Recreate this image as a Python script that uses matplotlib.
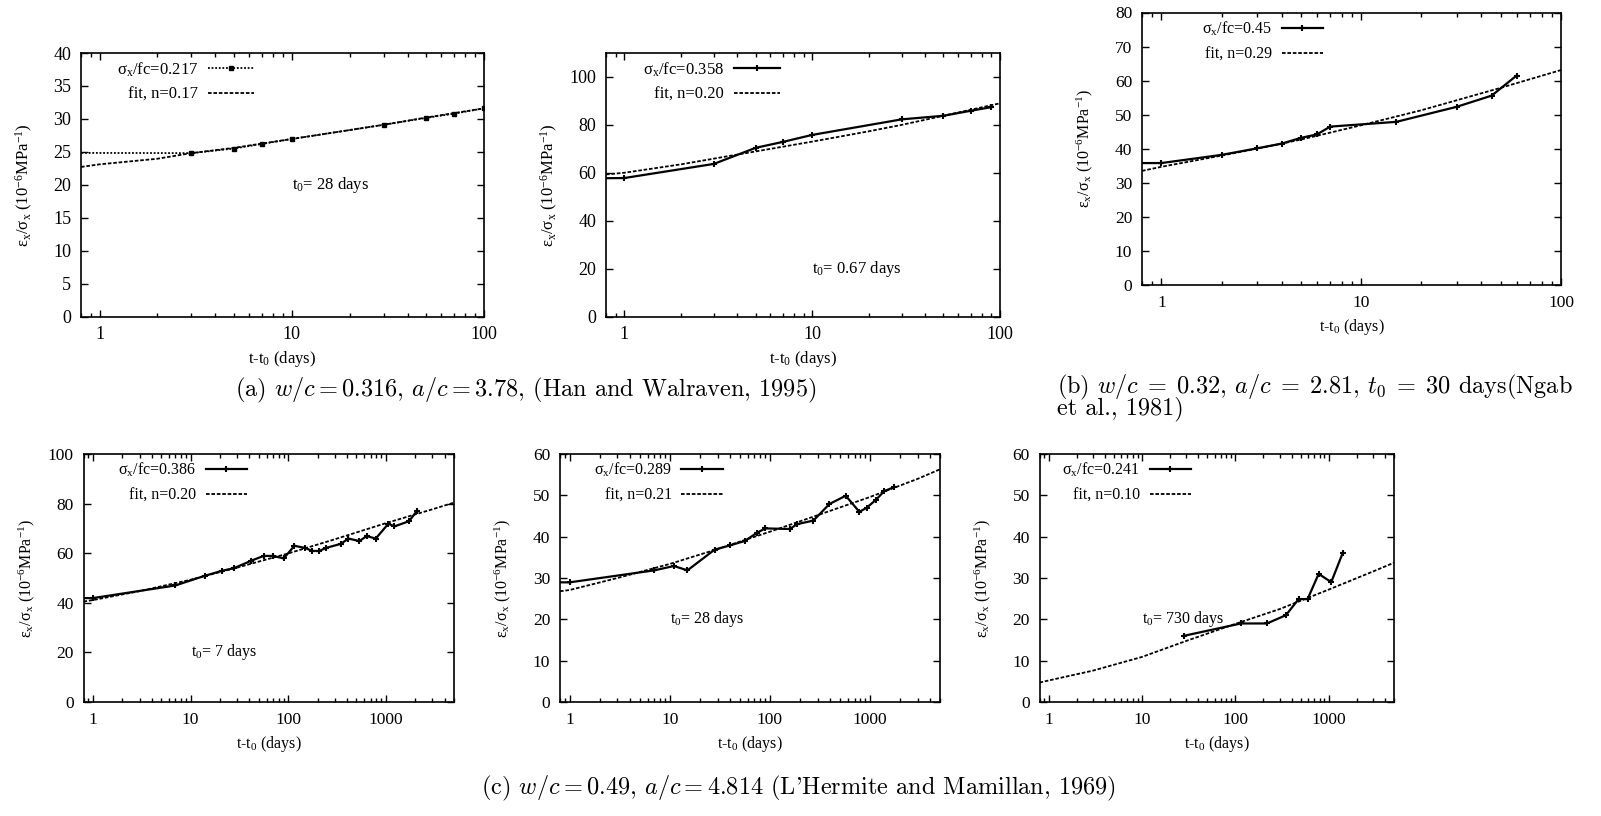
import matplotlib
matplotlib.use("Agg")
import matplotlib.pyplot as plt
from matplotlib.ticker import FixedLocator, FormatStrFormatter, LogLocator, NullFormatter

plt.rcParams["font.family"] = ["Liberation Serif", "DejaVu Serif"]
plt.rcParams["mathtext.fontset"] = "custom"
plt.rcParams["mathtext.rm"] = "Liberation Serif"
plt.rcParams["mathtext.it"] = "Liberation Serif"
plt.rcParams["mathtext.default"] = "rm"

# ---- (a) Han and Walraven, t0 = 28 days
a1_t = [0.5, 3, 5, 7, 10, 30, 50, 70, 100]
a1_j = [24.85, 24.8, 25.5, 26.2, 26.95, 29.1, 30.15, 30.8, 31.6]
a1_fit_t = [0.8, 1, 2, 3, 5, 10, 20, 30, 50, 100]
a1_fit_j = [22.7, 23.1, 23.95, 24.8, 25.6, 26.95, 28.3, 29.1, 30.2, 31.6]

# ---- (a) Han and Walraven, t0 = 0.67 days
a2_t = [0.5, 1, 3, 5, 7, 10, 30, 50, 70, 90]
a2_j = [57.6, 57.8, 63.7, 70.4, 72.9, 75.8, 82.3, 83.8, 85.9, 87.4]
a2_fit_t = [0.8, 1, 2, 3, 5, 10, 20, 30, 50, 100]
a2_fit_j = [59.3, 60.0, 63.5, 65.9, 68.9, 73.0, 77.3, 80.0, 83.8, 89.0]

# ---- (b) Ngab et al., t0 = 30 days
b_t = [0.5, 1, 2, 3, 4, 5, 6, 7, 15, 30, 45, 60]
b_j = [35.8, 35.8, 38.2, 40.1, 41.5, 43.2, 44.2, 46.5, 47.9, 52.3, 55.6, 61.5]
b_fit_t = [0.8, 1, 2, 3, 5, 10, 20, 50, 100]
b_fit_j = [33.5, 34.7, 38.0, 40.0, 42.7, 46.9, 51.3, 57.9, 63.1]

# ---- (c) L'Hermite and Mamillan, t0 = 7 days
c1_t = [0.5, 1, 7, 14, 21, 28, 42, 56, 70, 90, 116, 149, 177, 209, 243,
        348, 414, 537, 638, 789, 1064, 1225, 1733, 2076]
c1_j = [41.9, 41.9, 47.0, 50.9, 52.9, 54.0, 57.0, 58.9, 58.9, 57.9, 63.0,
        62.1, 60.9, 60.9, 62.1, 63.8, 65.9, 64.9, 66.9, 65.9, 71.9, 70.8,
        72.9, 77.0]
c1_fit_t = [0.8, 1, 3, 10, 30, 100, 300, 1000, 3000, 5000]
c1_fit_j = [40.5, 41.1, 44.7, 49.3, 54.2, 59.9, 65.6, 72.1, 77.7, 80.4]

# ---- (c) t0 = 28 days
c2_t = [0.5, 1, 7, 11, 15, 28, 40, 56, 75, 90, 159, 185, 272, 393, 572,
        783, 927, 1149, 1391, 1750]
c2_j = [28.95, 28.95, 31.85, 32.9, 31.85, 36.85, 37.9, 38.95, 41.0, 42.0,
        41.85, 43.0, 43.9, 47.9, 49.9, 46.0, 47.0, 48.95, 51.05, 52.0]
c2_fit_t = [0.8, 1, 3, 10, 30, 100, 300, 1000, 3000, 5000]
c2_fit_j = [26.8, 27.1, 30.0, 33.4, 37.0, 41.2, 45.2, 49.6, 54.0, 56.3]

# ---- (c) t0 = 730 days
c3_t = [28, 115, 218, 348, 476, 594, 780, 1064, 1409]
c3_j = [16.0, 19.0, 19.0, 21.0, 24.9, 24.9, 31.0, 29.0, 36.0]
c3_fit_t = [0.8, 1, 3, 10, 30, 100, 300, 1000, 3000, 5000]
c3_fit_j = [4.7, 5.2, 7.6, 10.9, 14.8, 18.9, 22.5, 27.2, 31.6, 33.7]

W, H = 1601, 816
fig = plt.figure(figsize=(W / 100, H / 100), dpi=100)

YLABEL = r"$\varepsilon_x/\sigma_x$ (10$^{-6}$MPa$^{-1}$)"
XLABEL = r"t-t$_0$ (days)"


def panel(box, xmax, ymax, ystep, fs, tfs):
    l, t, r, b = box
    ax = fig.add_axes([l / W, 1 - b / H, (r - l) / W, (b - t) / H])
    ax.set_xscale("log")
    ax.set_xlim(0.8, xmax)
    ax.set_ylim(0, ymax)
    ax.yaxis.set_major_locator(FixedLocator(list(range(0, int(ymax) + 1, ystep))))
    ax.xaxis.set_major_locator(LogLocator(base=10))
    ax.xaxis.set_minor_locator(LogLocator(base=10, subs=range(2, 10)))
    ax.xaxis.set_major_formatter(FormatStrFormatter("%g"))
    ax.xaxis.set_minor_formatter(NullFormatter())
    ax.tick_params(which="both", direction="in", top=True, right=True,
                   labelsize=tfs, width=1.0)
    ax.tick_params(which="major", length=5, pad=7)
    ax.tick_params(which="minor", length=3)
    for s in ax.spines.values():
        s.set_linewidth(1.2)
    ax.set_xlabel(XLABEL, fontsize=fs)
    ax.set_ylabel(YLABEL, fontsize=fs)
    ax.xaxis.label.set_va("center")
    ax.yaxis.label.set_va("center")
    ax.xaxis.set_label_coords(0.5, -42 / (b - t))
    ax.yaxis.set_label_coords(-57 / (r - l), 0.5)
    return ax


def curves(ax, t, j, ft, fj, label, n, fs, legx, hl, dotted=False):
    if dotted:
        ax.plot(t, j, color="black", lw=1.3, ls=(0, (1, 1)), marker="s",
                ms=3.5, label=label)
    else:
        ax.plot(t, j, color="black", lw=1.6, marker="+", ms=4.5, mew=1.5,
                label=label)
    ax.plot(ft, fj, color="black", lw=1.3, ls=(0, (2.0, 1.0)),
            label="fit, n=%.2f" % n)
    ax.legend(loc="upper right", bbox_to_anchor=(legx, 0.985), frameon=False,
              markerfirst=False, fontsize=fs, handlelength=hl,
              handletextpad=0.6, labelspacing=0.5, borderaxespad=0,
              borderpad=0.2)


fs_top = 12
ax1 = panel((81, 53, 484, 316.5), 100, 40, 5, fs_top, 13)
curves(ax1, a1_t, a1_j, a1_fit_t, a1_fit_j, r"$\sigma_x$/fc=0.217", 0.17,
       fs_top, 0.437, 2.75, dotted=True)
ax1.text(10, 20, r"t$_0$= 28 days", fontsize=fs_top, va="center")

ax2 = panel((606, 53, 1000, 316.5), 100, 110, 20, fs_top, 13)
ax2.yaxis.set_major_locator(FixedLocator([0, 20, 40, 60, 80, 100]))
curves(ax2, a2_t, a2_j, a2_fit_t, a2_fit_j, r"$\sigma_x$/fc=0.358", 0.20,
       fs_top, 0.449, 2.75)
ax2.text(10, 20, r"t$_0$= 0.67 days", fontsize=fs_top, va="center")

fs_b = 11.5
ax3 = panel((1142, 12.5, 1561, 285), 100, 80, 10, fs_b, 12.5)
curves(ax3, b_t, b_j, b_fit_t, b_fit_j, r"$\sigma_x$/fc=0.45", 0.29,
       fs_b, 0.44, 2.6)

fs_c = 11.5
ax4 = panel((83.5, 454, 454, 702), 5000, 100, 20, fs_c, 12.5)
curves(ax4, c1_t, c1_j, c1_fit_t, c1_fit_j, r"$\sigma_x$/fc=0.386", 0.20,
       fs_c, 0.45, 2.6)
ax4.text(10, 20, r"t$_0$= 7 days", fontsize=fs_c, va="center")

ax5 = panel((560, 454, 940, 702), 5000, 60, 10, fs_c, 12.5)
curves(ax5, c2_t, c2_j, c2_fit_t, c2_fit_j, r"$\sigma_x$/fc=0.289", 0.21,
       fs_c, 0.437, 2.6)
ax5.text(10, 20, r"t$_0$= 28 days", fontsize=fs_c, va="center")

ax6 = panel((1039.5, 454, 1394, 702), 5000, 60, 10, fs_c, 12.5)
curves(ax6, c3_t, c3_j, c3_fit_t, c3_fit_j, r"$\sigma_x$/fc=0.241", 0.10,
       fs_c, 0.437, 2.6)
ax6.text(10, 20, r"t$_0$= 730 days", fontsize=fs_c, va="center")

# sub-figure captions (Computer Modern, math in cm)
cap = dict(fontsize=17.5, family="cmr10", math_fontfamily="cm", va="center")
fig.text(526 / W, 1 - 390 / H,
         r"(a) $\mathit{w}/\mathit{c} = 0.316$, $\mathit{a}/\mathit{c} = 3.78$,"
         r" (Han and Walraven, 1995)",
         ha="center", **cap)
fig.text(1057 / W, 1 - 397 / H,
         r"(b) $\mathit{w}/\mathit{c}\;=\;0.32$, $\mathit{a}/\mathit{c}\;=\;2.81$,"
         r" $\mathit{t}_0\;=\;30$ days(Ngab" + "\n" + "et al., 1981)",
         ha="left", ma="left", linespacing=0.72, **cap)
fig.text(798 / W, 1 - 788 / H,
         r"(c) $\mathit{w}/\mathit{c} = 0.49$, $\mathit{a}/\mathit{c} = 4.814$"
         r" (L'Hermite and Mamillan, 1969)",
         ha="center", **cap)

fig.savefig("out.png", dpi=100)
